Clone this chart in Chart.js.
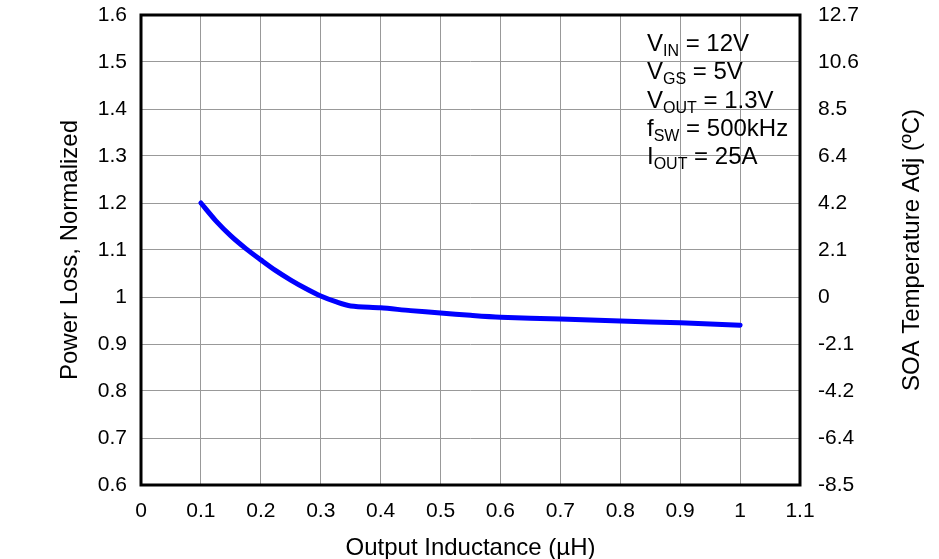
<!DOCTYPE html>
<html>
<head>
<meta charset="utf-8">
<script src="https://cdn.jsdelivr.net/npm/chart.js@4/dist/chart.umd.min.js"></script>
<style>
  html, body { margin: 0; padding: 0; background: #fff; }
  #box { width: 939px; height: 559px; }
</style>
</head>
<body>
<div id="box"><canvas id="myChart"></canvas></div>
<script>
// datos
var inductancia = [0.1, 0.125, 0.15, 0.175, 0.2, 0.225, 0.25, 0.275, 0.3, 0.325, 0.35, 0.4, 0.45, 0.5, 0.55, 0.6, 0.7, 0.8, 0.9, 1.0];
var perdidas = [1.2, 1.162, 1.13, 1.103, 1.079, 1.056, 1.036, 1.018, 1.002, 0.99, 0.981, 0.977, 0.971, 0.966, 0.961, 0.957, 0.953, 0.949, 0.945, 0.94];
var etiquetasDerecha = ['-8.5', '-6.4', '-4.2', '-2.1', '0', '2.1', '4.2', '6.4', '8.5', '10.6', '12.7'];
var condiciones = [
    ['V', 'IN', ' = 12V'],
    ['V', 'GS', ' = 5V'],
    ['V', 'OUT', ' = 1.3V'],
    ['f', 'SW', ' = 500kHz'],
    ['I', 'OUT', ' = 25A']
];

var fuente = '"Liberation Sans", Arial, sans-serif';
Chart.defaults.font.family = fuente;
Chart.defaults.color = '#000';

var puntos = [];
for (var i = 0; i < inductancia.length; i++) {
    puntos.push({x: inductancia[i], y: perdidas[i]});
}

var decoracion = {
    id: 'decoracion',
    afterDraw: function(chart) {
        var ctx = chart.ctx;
        var a = chart.chartArea;
        ctx.save();
        // marco
        ctx.strokeStyle = '#000';
        ctx.lineWidth = 3;
        ctx.strokeRect(a.left, a.top, a.right - a.left, a.bottom - a.top);

        // titulo eje derecho
        ctx.translate(912, (a.top + a.bottom) / 2);
        ctx.rotate(-Math.PI / 2);
        ctx.font = '24px ' + fuente;
        ctx.fillStyle = '#000';
        ctx.textAlign = 'center';
        ctx.textBaseline = 'middle';
        ctx.fillText('SOA Temperature Adj (ºC)', 0, 0);
        ctx.restore();

        // condiciones
        ctx.save();
        ctx.fillStyle = '#000';
        ctx.textBaseline = 'alphabetic';
        ctx.textAlign = 'left';
        for (var k = 0; k < condiciones.length; k++) {
            var y = 51 + k * 28.3;
            var x = 647;
            ctx.font = '24px ' + fuente;
            ctx.fillText(condiciones[k][0], x, y);
            x += ctx.measureText(condiciones[k][0]).width;
            ctx.font = '16px ' + fuente;
            ctx.fillText(condiciones[k][1], x, y + 5);
            x += ctx.measureText(condiciones[k][1]).width;
            ctx.font = '24px ' + fuente;
            ctx.fillText(condiciones[k][2], x, y);
        }
        ctx.restore();
    }
};

var grid = { color: '#999999', lineWidth: 1, drawTicks: false };

function ajusteY(ancho) {
    return function(s) {
        s.width = ancho;
        s.paddingTop = 0;
        s.paddingBottom = 0;
    };
}

var grafico = new Chart(document.getElementById('myChart'), {
    type: 'line',
    data: {
        datasets: [{
            label: 'Power Loss',
            data: puntos,
            borderColor: '#0000ff',
            borderWidth: 5,
            pointRadius: 0,
            tension: 0.3,
            borderCapStyle: 'round',
            yAxisID: 'y'
        }]
    },
    options: {
        responsive: true,
        maintainAspectRatio: false,
        animation: false,
        layout: { padding: { top: 15, left: 0, right: 0, bottom: 0 } },
        plugins: { legend: { display: false }, tooltip: { enabled: false } },
        scales: {
            x: {
                type: 'linear',
                min: 0, max: 1.1,
                grid: grid,
                border: { display: false },
                ticks: {
                    stepSize: 0.1,
                    padding: 14,
                    font: { size: 21 },
                    maxRotation: 0,
                    callback: function(v) { return String(Number(v.toFixed(1))); }
                },
                title: {
                    display: true,
                    text: 'Output Inductance (µH)',
                    font: { size: 24, lineHeight: 0.9 },
                    padding: { top: 0, bottom: 0 }
                },
                afterFit: function(s) { s.height = 74; }
            },
            y: {
                position: 'left',
                min: 0.6, max: 1.6,
                grid: grid,
                border: { display: false },
                ticks: {
                    stepSize: 0.1,
                    padding: 14,
                    font: { size: 21 },
                    callback: function(v) { return String(Number(v.toFixed(1))); }
                },
                title: {
                    display: true,
                    text: 'Power Loss, Normalized',
                    font: { size: 24 },
                    padding: { top: 56, bottom: 0 }
                },
                afterFit: ajusteY(141)
            },
            y2: {
                position: 'right',
                min: 0.6, max: 1.6,
                grid: { display: false },
                border: { display: false },
                ticks: {
                    stepSize: 0.1,
                    padding: 10,
                    font: { size: 21 },
                    callback: function(v, idx) { return etiquetasDerecha[idx]; }
                },
                afterFit: ajusteY(139)
            }
        }
    },
    plugins: [decoracion]
});
</script>
</body>
</html>
